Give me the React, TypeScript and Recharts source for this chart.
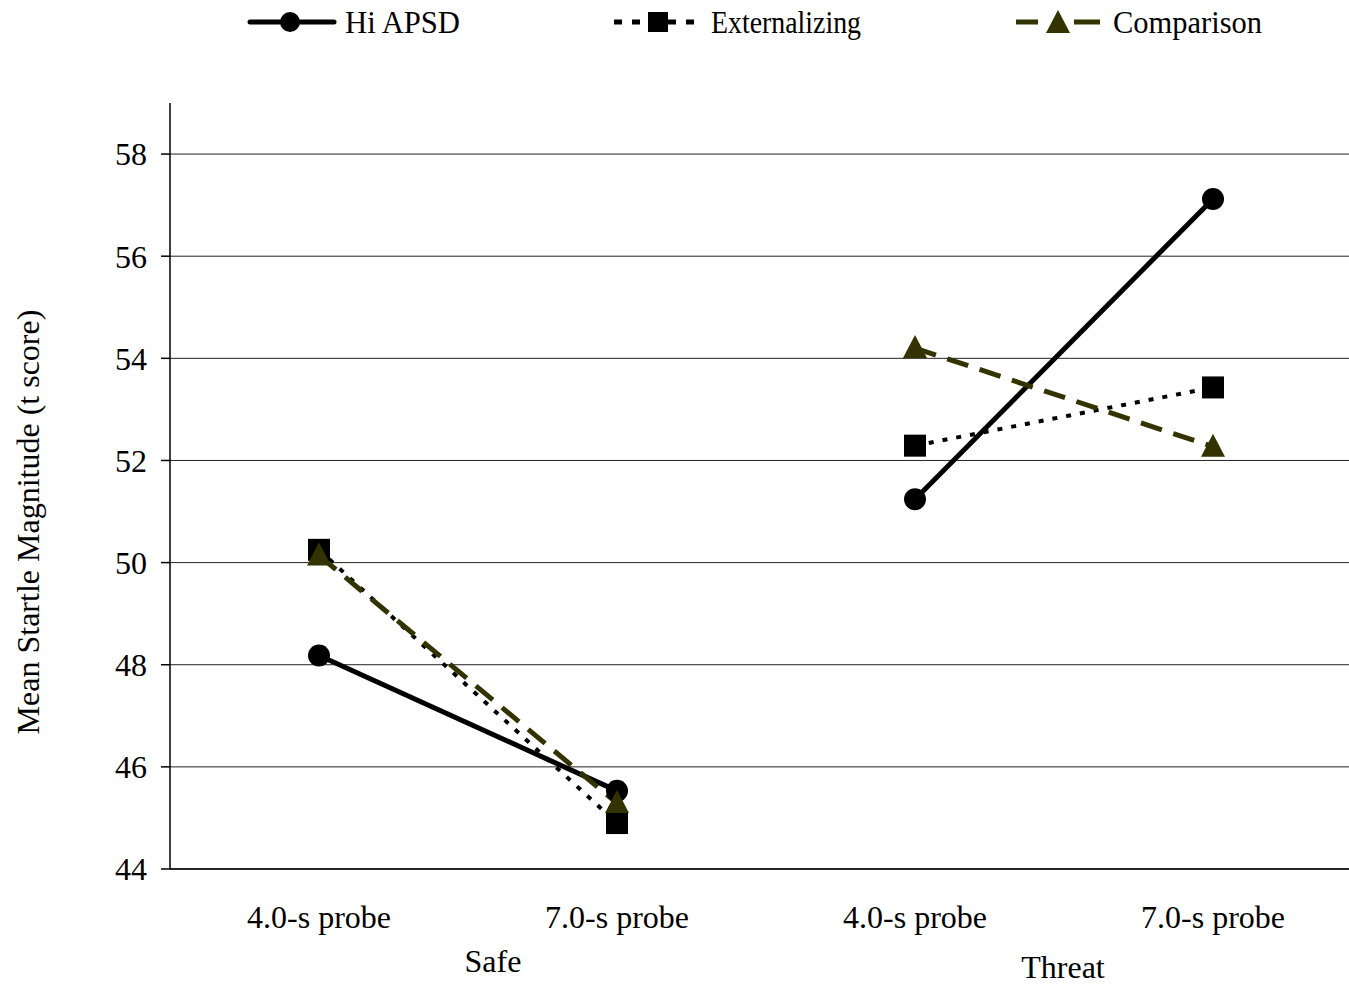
import React from "react";
import { LineChart, Line, XAxis, YAxis, CartesianGrid } from "recharts";

const probes = ["4.0-s probe", "7.0-s probe", "4.0-s probe", "7.0-s probe"];
const conditions = ["Safe", "Safe", "Threat", "Threat"];
const hiApsd = [48.18, 45.53, 51.24, 57.12];
const externalizing = [50.25, 44.9, 52.29, 53.43];
const comparison = [50.14, 45.29, 54.2, 52.27];
const yTicks = [44, 46, 48, 50, 52, 54, 56, 58];

// each condition is its own segment, so split every series by condition
const only = (vals: number[], cond: string) =>
  vals.map((v, i) => (conditions[i] === cond ? v : null));

const data = probes.map((p, i) => ({
  probe: p,
  condition: conditions[i],
  hiSafe: only(hiApsd, "Safe")[i],
  hiThreat: only(hiApsd, "Threat")[i],
  extSafe: only(externalizing, "Safe")[i],
  extThreat: only(externalizing, "Threat")[i],
  compSafe: only(comparison, "Safe")[i],
  compThreat: only(comparison, "Threat")[i],
}));

const FONT = "'Liberation Serif', 'Times New Roman', serif";
const FS = 32;
const OLIVE = "#333300";

function CircleDot({ cx, cy, value }: any) {
  if (cx == null || cy == null || value == null) return null;
  return <circle cx={cx} cy={cy} r={11} fill="#000" />;
}

function SquareDot({ cx, cy, value }: any) {
  if (cx == null || cy == null || value == null) return null;
  return <rect x={cx - 11} y={cy - 11} width={22} height={22} fill="#000" />;
}

function TriangleDot({ cx, cy, value }: any) {
  if (cx == null || cy == null || value == null) return null;
  return (
    <polygon
      points={`${cx},${cy - 13} ${cx - 12},${cy + 10} ${cx + 12},${cy + 10}`}
      fill={OLIVE}
    />
  );
}

// probe label, plus the condition name under the first probe of each group
function ProbeTick({ x, y, payload, index }: any) {
  const row = data[index];
  const first = index === 0 || conditions[index - 1] !== row.condition;
  const groupDx = row.condition === "Safe" ? 174 : 148;
  const groupDy = row.condition === "Safe" ? 84 : 90;
  return (
    <g>
      <text x={x} y={y + 40} textAnchor="middle" dominantBaseline="central" fontSize={FS} fontFamily={FONT} fill="#000">
        {payload.value}
      </text>
      {first && (
        <text x={x + groupDx} y={y + groupDy} textAnchor="middle" dominantBaseline="central" fontSize={FS} fontFamily={FONT} fill="#000">
          {row.condition}
        </text>
      )}
    </g>
  );
}

function YLabel({ viewBox }: any) {
  const cx = viewBox.x - 42;
  const cy = viewBox.y + viewBox.height / 2 + 36;
  return (
    <text x={cx} y={cy} transform={`rotate(-90 ${cx} ${cy})`} textAnchor="middle" dominantBaseline="central" fontSize={FS} fontFamily={FONT} fill="#000">
      Mean Startle Magnitude (t score)
    </text>
  );
}

function LegendItem({ left, label, kind, textW }: any) {
  let line: React.ReactNode = null;
  if (kind === "hi") {
    line = (
      <>
        <line x1={2} y1={22} x2={86} y2={22} stroke="#000" strokeWidth={5} strokeLinecap="round" />
        <circle cx={42} cy={22} r={10} fill="#000" />
      </>
    );
  } else if (kind === "ext") {
    line = (
      <>
        <line x1={0} y1={22} x2={82} y2={22} stroke="#000" strokeWidth={5} strokeDasharray="8 10" />
        <rect x={34} y={12} width={20} height={20} fill="#000" />
      </>
    );
  } else {
    line = (
      <>
        <line x1={0} y1={22} x2={22} y2={22} stroke={OLIVE} strokeWidth={5} />
        <line x1={58} y1={22} x2={84} y2={22} stroke={OLIVE} strokeWidth={5} />
        <polygon points="42,10 30,33 54,33" fill={OLIVE} />
      </>
    );
  }
  return (
    <g transform={`translate(${left},0)`}>
      {line}
      <text x={kind === "hi" ? 97 : 97} y={22} dominantBaseline="central" fontSize={FS} fontFamily={FONT} fill="#000" textLength={textW} lengthAdjust="spacingAndGlyphs">
        {label}
      </text>
    </g>
  );
}

export default function App() {
  return (
    <div style={{ position: "fixed", left: 0, top: 0, width: "100vw", height: "100vh", overflow: "hidden", background: "#fff" }}>
      <LineChart width={1372} height={986} data={data} margin={{ top: 103, right: 10, bottom: 0, left: 70 }}>
        <CartesianGrid horizontal vertical={false} horizontalValues={yTicks} stroke="#222" strokeWidth={1} />
        <XAxis
          dataKey="probe"
          interval={0}
          padding={{ left: 149, right: 149 }}
          axisLine={{ stroke: "#000", strokeWidth: 1.5 }}
          tickLine={false}
          tick={<ProbeTick />}
          height={117}
          allowDuplicatedCategory
        />
        <YAxis
          type="number"
          domain={[44, 59]}
          ticks={yTicks}
          width={100}
          axisLine={{ stroke: "#000", strokeWidth: 1.5 }}
          tickLine={{ stroke: "#000", strokeWidth: 1.5 }}
          tickSize={9}
          tickMargin={14}
          tick={{ fontSize: FS, fontFamily: FONT, fill: "#000" }}
          label={<YLabel />}
        />
        <Line dataKey="hiSafe" stroke="#000" strokeWidth={5} dot={<CircleDot />} isAnimationActive={false} />
        <Line dataKey="hiThreat" stroke="#000" strokeWidth={5} dot={<CircleDot />} isAnimationActive={false} />
        <Line dataKey="extSafe" stroke="#000" strokeWidth={4} strokeDasharray="5 9" dot={<SquareDot />} isAnimationActive={false} />
        <Line dataKey="extThreat" stroke="#000" strokeWidth={4} strokeDasharray="5 9" dot={<SquareDot />} isAnimationActive={false} />
        <Line dataKey="compSafe" stroke={OLIVE} strokeWidth={5} strokeDasharray="22 12" dot={<TriangleDot />} isAnimationActive={false} />
        <Line dataKey="compThreat" stroke={OLIVE} strokeWidth={5} strokeDasharray="22 12" dot={<TriangleDot />} isAnimationActive={false} />
      </LineChart>
      <svg style={{ position: "absolute", left: 0, top: 0 }} width={1349} height={46}>
        <LegendItem left={248} label="Hi APSD" kind="hi" textW={115} />
        <LegendItem left={614} label="Externalizing" kind="ext" textW={150} />
        <LegendItem left={1016} label="Comparison" kind="comp" textW={149} />
      </svg>
    </div>
  );
}
